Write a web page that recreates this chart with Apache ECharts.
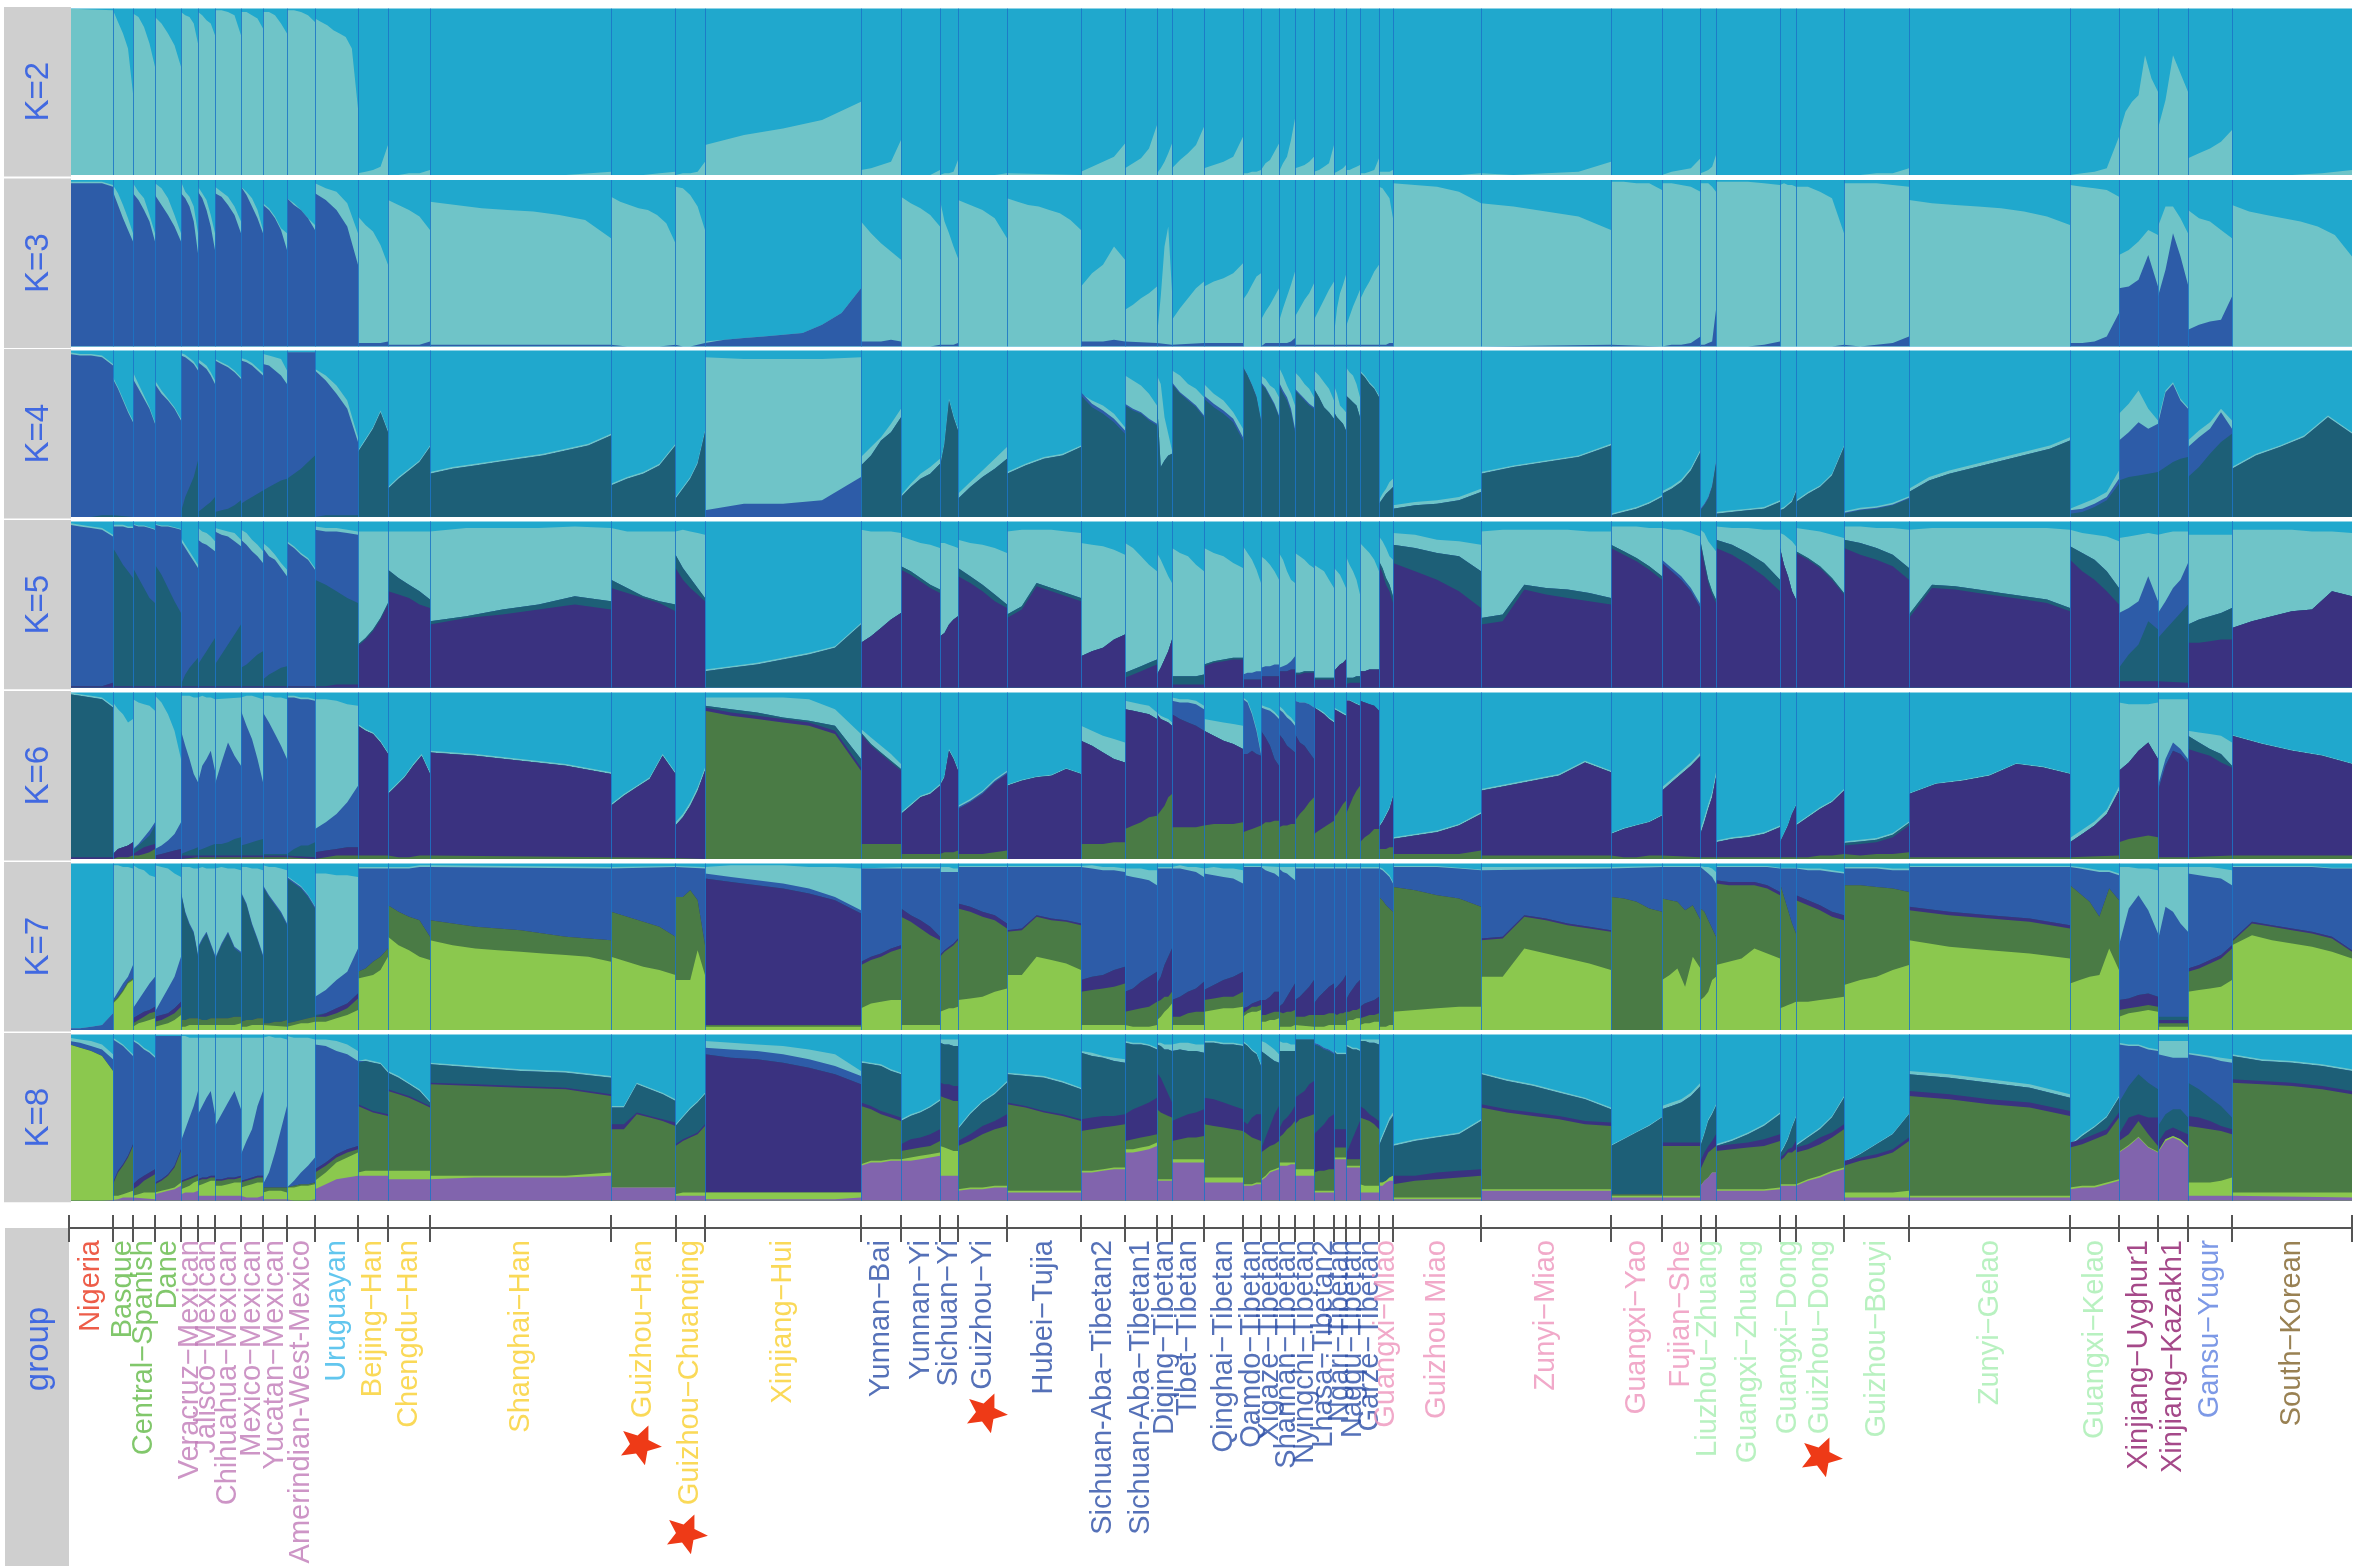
<!DOCTYPE html>
<html><head><meta charset="utf-8">
<style>html,body{margin:0;padding:0;background:#fff}#c{width:2358px;height:1568px}</style>
<script src="https://cdn.jsdelivr.net/npm/echarts@6/dist/echarts.min.js"></script>
</head><body><div id="c"></div>
<script>
const popNames=['Nigeria','Basque','Central−Spanish','Dane','Veracruz−Mexican','Jalisco−Mexican','Chihuahua−Mexican','Mexico−Mexican','Yucatan−Mexican','Amerindian-West-Mexico','Uruguayan','Beijing−Han','Chengdu−Han','Shanghai−Han','Guizhou−Han','Guizhou−Chuanqing','Xinjiang−Hui','Yunnan−Bai','Yunnan−Yi','Sichuan−Yi','Guizhou−Yi','Hubei−Tujia','Sichuan-Aba−Tibetan2','Sichuan-Aba−Tibetan1','Diqing−Tibetan','Tibet−Tibetan','Qinghai−Tibetan','Qamdo−Tibetan','Xigaze−Tibetan','Shannan−Tibetan','Nyingchi−Tibetan','Lhasa−Tibetan2','Ngari−Tibetan','Nagqu−Tibetan','Garze−Tibetan','Guangxi−Miao','Guizhou Miao','Zunyi−Miao','Guangxi−Yao','Fujian−She','Liuzhou−Zhuang','Guangxi−Zhuang','Guangxi−Dong','Guizhou−Dong','Guizhou−Bouyi','Zunyi−Gelao','Guangxi−Kelao','Xinjiang−Uyghur1','Xinjiang−Kazakh1','Gansu−Yugur','South−Korean'];
const popEdges=[69,113,133,155,181,198,215,241,263,287,315,358,388,430,611,675.5,705,861,901,940,958,1007,1081,1125,1157,1172,1204,1243,1261,1279,1295,1314,1334,1346,1360,1379,1393,1481,1611,1662,1700.5,1716,1780,1796,1844,1909,2070,2119,2158,2188,2232,2352];
const C={cyan:'#20A8CD',teal:'#6FC4C8',blue:'#2D5CA8',dteal:'#1D5F77',navy:'#3A3280',dgreen:'#4A7B45',lgreen:'#8BC84E',purple:'#8164AD'};
const labelGroups=[['#E8341C',1],['#62B946',3],['#C07AB8',6],['#3BB8EA',1],['#F9CF2E',6],['#2B4DA6',18],['#EE93BB',5],['#A6EEB0',7],['#8E1B6C',2],['#5C7FE0',1],['#7F6228',1]];
const labelTop=12;
const starPops=[['Guizhou−Han',642,217],['Guizhou−Chuanqing',688,306],['Guizhou−Yi',988,185],['Guizhou−Dong',1823,229]];

/* Each panel: one row per population. Entries go bottom to top.
   An array is a boundary level (% of the panel) at evenly spaced places across the population;
   a number is a thickness above the boundary beneath it. */
const k2=[[[100,99]],[[99,92,85,76,49]],[[97,95,89,79,65]],[[95,91,85,78,65]],[[98,96,95,91,79]],[[98,96,93,91,84]],[[99,99,98,96,84]],[[98,98,96,94,88]],[[98,98,96,91,85]],[[99,99,98,96,92]],[[94,92,90,87,85,83,76,40]],[[1,2,3,5,18]],[[0,0,1,1,3]],[[0,0,0,0,2]],[[0,0,0,1,2]],[[0,1,1,2,8]],[[18,24,28,33,44]],[[3,4,6,8,21]],[[0,0,0,0,3]],[[0,1,1,2,9]],[[0,0,0,0,1]],[[0,0]],[[2,5,8,11,19]],[[4,7,10,16,30]],[[1,4,8,13,19]],[[4,9,13,18,29]],[[4,6,8,11,23]],[[1,1,2,2,3]],[[2,7,9,14,19]],[[2,7,11,21,34]],[[4,5,6,8,11]],[[2,3,5,7,18]],[[1,2,3,4,6]],[[3,3,4,5,6]],[[1,1,2,3,10]],[[2,2,2,2,3]],[[0,0,0,0,1]],[[0,0,1,2,8]],[[0,0]],[[1,2,3,4,10]],[[1,2,3,5,12]],[[0,0]],[[0,0]],[[0,0]],[[0,0,1,1,4]],[[0,0]],[[0,1,2,4,23]],[[25,38,44,48,72,58,50]],[[28,45,72,61,50]],[[10,13,16,20,27]],[[0,0,0,1,3]]];

const k3=[[[98,98,98,98,96],1],[[93,85,77,70,63],[98,92,85,77,68]],[[92,88,82,75,63],[98,93,89,79,68]],[[91,85,79,72,63],[98,95,89,79,68]],[[92,89,84,75,56],[99,93,90,84,68]],[[93,89,82,72,58],[96,92,88,79,68]],[[92,90,85,79,68],[96,93,90,84,75]],[[96,91,84,77,68],[96,93,89,82,70]],[[85,82,77,70,58],[86,83,78,71,68]],[[89,85,82,77,70],[89,86,82,77,73]],[[92,88,82,72,49],[98,95,93,86,68]],[[2,2,2,2,3],[78,73,69,61,49]],[[1,1,1,1,3],[88,85,82,78,70]],[[1,1],[87,85,83,82,81,79,76,65]],[[0,0,0,0,1],[90,87,85,83,82,79,74,62]],[[0,0,0,1,2],[96,95,91,84,70]],[[3,4,5,6,7,8,13,20,35],0],[[3,3,3,4,3],[75,68,62,57,52]],[[0,0,0,0,1],[90,86,83,79,72]],[[0,1,1,1,2],[88,75,68,60,53]],[[0,0],[88,85,82,77,65]],[[0,0],[89,87,85,84,82,80,76,70]],[[3,3,3,4,3],[36,44,49,60,52]],[[2,2],[22,25,29,32,36]],[[1,1],[6,30,60,72,33]],[[2,2],[16,23,29,35,39]],[[2,2],[36,39,41,44,50]],[[0,0],[28,32,37,42,44]],[[1,2,2,2,2],[16,21,25,30,35]],[[2,2,2,3,5],[15,23,30,37,45]],[[1,1],[18,23,28,32,38]],[[1,1],[16,22,28,34,39]],[[1,1],[7,23,32,37,43]],[[1,1],[12,18,24,29,34]],[[1,1],[28,34,39,45,49]],[[1,1,1,2,2],[96,95,92,89,77]],[[0,0],[98,97,96,93,86]],[[1,1],[86,84,81,78,70]],[[0,0],[99,99,98,98,94]],[[0,1,1,2,6],[98,98,97,96,93]],[[1,1,2,3,22],[98,98,98,96,93]],[[0,0,0,1,3],[99,99,99,98,97]],[[0,0],[98,98,97,97,96]],[[0,0,0,0,1],[97,96,93,89,68]],[[0,0,1,2,6],[98,98,98,97,96]],[[0,0],[88,86,85,84,83,81,78,73]],[[2,2,3,6,20],[97,96,95,94,90]],[[35,36,40,55,36],[55,58,63,70,67]],[[30,46,68,54,37],[72,84,84,77,68]],[[10,13,15,16,30],[82,77,75,70,65]],[[0,0],[85,81,79,77,75,72,67,54]]];

const k4=[[[0,0,0,1,1],[98,97,97,96,91],1],[[0,0],[83,77,70,63,57],1],[[0,0],[83,77,71,65,56],[87,80,73,66,57]],[[0,0],[80,74,70,65,58],[82,76,71,66,59]],[[3,12,18,24,34],[97,96,94,92,88],1.5],[[3,5,7,9,12],[93,91,89,85,80],2],[[3,4,5,7,10],[94,92,90,87,83],1],[[8,10,12,14,16],[94,93,91,88,85],1.5],[[16,18,20,22,23],[92,91,88,85,80],[98,97,96,95,88]],[[23,26,29,33,37],[99,99],0],[[0,1,1,1,1],[88,82,74,65,45],[89,85,79,70,48]],[[39,46,53,63,51],0,1],[[17,23,28,33,42],0,1],[[26,29,31,33,35,37,40,43,49],0,1],[[19,23,26,31,43],0,1],[[11,17,23,32,51],0,1],[[0,0],[4,8,8,10,24],[96,95,95,95,96]],[[31,37,46,51,60],0,[36,42,48,56,65]],[[12,18,23,26,32],0,[13,20,26,30,35]],[[30,44,70,60,52],0,1],[[11,18,24,29,35],0,[14,21,28,35,42]],[[26,31,35,37,42],0,1],[[73,66,62,57,50],2,[74,70,67,62,54]],[[67,64,62,58,55],1,[85,82,79,74,67]],[[70,30,34,37,38],0,[85,80,60,50,40]],[[80,74,70,66,60],1,[88,85,80,77,72]],[[71,66,62,57,46],2,[80,74,70,63,53]],[[90,85,79,72,58],0.5,0],[[80,77,72,67,60],1,[85,83,79,77,72]],[[79,74,70,63,51],2,[90,85,79,74,67]],[[76,73,70,67,65],1,[87,84,80,77,72]],[[77,72,66,63,59],0,[88,85,81,77,70]],[[63,60,58,56,52],0,[79,74,67,65,63]],[[73,71,69,67,60],0,[90,87,85,80,72]],[[87,84,80,77,72],0,1],[[8,11,14,16,18],0,[10,14,17,21,23]],[[5,7,8,10,15],0,2],[[26,30,33,36,43],0,1],[[1,3,5,8,12],0,1],[[14,17,21,28,39],0,1.5],[[4,7,11,18,32],1,0],[[2,3,4,5,9],0,1],[[4,5,7,9,15],0,1],[[9,14,18,25,42],0,1],[[2,4,5,7,11],0.5,1],[[15,22,26,29,32,35,38,41,46],0,2],[[2,3,6,10,20],[4,5,8,12,23],[5,8,11,15,28]],[[22,24,25,26,27],[46,51,57,53,56],[62,68,76,65,58]],[[27,30,33,35,36],[56,75,80,70,65],1],[[24,30,38,45,50],[42,48,53,63,53],[46,52,57,65,58]],[[29,37,42,48,60,50],0,1]];

const k5=[[[1,1,1,1,3],0,[98,97,96,95,91],1],[[1,1],[84,79,74,70,66],[97,97,97,96,96],1],[[1,1],[72,66,60,54,51],[98,97,97,96,95],0.5],[[1,1],[74,68,60,52,45],[98,97,97,96,95],0.5],[[1,1],[2,8,12,15,18],[88,84,80,76,72],2],[[1,1],[14,18,22,26,30],[89,87,86,84,82],[96,94,93,91,88]],[[1,1],[14,20,26,32,38],[94,92,91,88,85],[96,95,94,93,89]],[[1,1],[12,14,17,20,22],[89,86,82,79,75],[95,93,89,86,82]],[[1,1],[5,8,10,12,13],[84,79,77,72,67],[87,84,80,75,71]],[[1,1],0,[87,84,80,77,71],1],[[1,1,2,2,2],[65,62,58,54,51],[95,94,94,93,92],2],[[25,29,34,41,50],1,0,[94,94]],[[58,56,54,50,48],[71,66,62,58,53],0,[94,94]],[[38,42,44,47,50,47],[40,43,47,50,55,52],0,[95,96,96,96,97,96]],[[60,57,54,51,46],[65,60,55,52,50],0,[95,94,94,94,94]],[[72,65,60,56,52],[80,72,66,60,54],0,[95,95,94,93,92]],[[0,0],[10,12,14,17,20,24,38],0,1],[[27,31,36,41,45],0,0,[95,94,94,94,93]],[[71,68,64,60,57],2,0,[91,89,87,86,84]],[[31,33,38,41,43],0,0,[87,87,86,85,84]],[[67,63,58,52,48],[72,67,62,56,50],0,[89,87,86,84,81]],[[42,47,61,58,55,52],2,0,[94,95,95,95,94,93]],[[19,22,24,29,32],0,0,[87,86,85,83,80]],[[6,8,10,12,14],3,0,[87,84,79,74,70]],[[8,12,17,22,29],0,0,[81,77,72,67,63]],[[2,2],[7,7,7,7,8],0,[84,81,79,74,70]],[[13,15,16,17,17],1,0,[84,81,79,75,72]],[[5,5],0,[8,9,9,10,10],[85,81,77,71,63]],[[7,7],0,[12,13,13,14,14],[79,77,74,70,65]],[[10,10,10,11,11],0,[12,13,14,16,19],[81,77,70,65,63]],[[8,8,9,9,9],1,0,[81,79,77,74,72]],[[5,5],1,0,[74,72,70,65,60]],[[10,12,14,15,17],0,0,[72,70,68,64,60]],[[2,3,3,3,3],[6,6,6,7,7],0,[79,74,70,65,56]],[[10,10,11,11,11],0,0,[87,84,81,77,70]],[[74,69,62,58,51],[76,72,66,62,55],0,[91,88,84,79,77]],[[75,70,65,58,48],[86,84,81,79,70],0,[93,92,89,88,86]],[[38,40,59,56,54,52,50],[42,44,62,60,59,57,54],0,[94,95,95,95,95,94,94]],[[84,80,76,71,65],2,0,[97,97,97,96,96]],[[75,70,65,58,48],0,2,[97,95,95,93,91]],[[86,74,63,56,51],2,0,[95,93,88,85,82]],[[84,80,74,67,58],[89,86,81,75,65],0,[97,96,96,95,95]],[[84,74,67,58,53],0,0,[93,92,90,88,85]],[[81,77,72,65,56],1,0,[96,95,94,92,90]],[[84,80,77,73,65],[89,87,84,80,72],0,[97,97,96,96,95]],[[42,60,59,57,55,53,51,46],2,0,[95,96,96,96,96,96,96,95]],[[77,70,65,58,50],[85,81,77,70,60],0,[94,93,92,91,88]],[[4,4],[12,20,26,40,35],[45,48,52,67,52],[90,91,92,93,92]],[[3,3],[30,35,40,45,50],[45,52,60,65,75],[93,93,94,94,94]],[[27,27,28,29,29],[38,41,43,45,48],0,[92,92]],[[36,40,43,46,47,58,55],0,0,[95,95,95,95,94,94,93]]];

const k6=[[[0,0],[1,1],[99,98,97,96,91],0,1],[[1,1,1,1,2],[3,6,7,8,10],0,0,[94,90,87,82,84]],[[1,2,3,4,6],[3,5,7,8,9],[5,8,11,14,20],[6,9,13,17,22],[96,94,93,92,89]],[[0,0],[2,3,4,5,6],0,[6,8,11,15,22],[98,94,87,77,60]],[[1,1],[2,2],[3,4,5,6,7],[77,68,60,51,46],[98,98,98,97,97]],[[1,1],[2,2],[5,6,7,8,9],[46,56,60,65,53],[98,98,97,97,96]],[[1,1],[2,2],[8,9,10,12,13],[45,58,70,62,56],[97,97]],[[1,1],[2,2],[8,9,10,11,12],[89,80,72,60,46],[98,98,98,97,96]],[[1,1],[2,2],[3,3],[88,82,75,68,60],[98,98,97,97,96]],[[0,0],[1,1],[3,6,8,8,10],[97,97,96,96,95],1],[[1,1,2,2,2],[4,5,6,7,7],0,[18,22,27,34,44],[97,96,95,93,92]],[[2,2],[80,77,75,70,63],0,0,1],[[1,1,1,2,2],[39,44,49,56,62,51],0,0,1],[[1,1],[64,62,59,56,51],0,0,1],[[0.5,0.5],[32,38,43,48,62,51],0,0,1],[[0,0],[20,25,32,41,53],0,0,2],[[89,86,84,82,80,75,53],2,[92,90,88,85,83,80,60],0,[97,97,97,97,96,90,75]],[[9,9],[75,68,63,58,53],1,0,[78,73,68,63,57]],[[3,3],[27,32,37,39,44],0,0,1],[[4,4,4,4,5],[44,49,65,60,53],0,0,1],[[3,3,3,4,5],[30,34,39,46,51],0,1,1],[[0,0],[44,47,49,50,54,51],0,0,0.5],[[9,9,9,10,10],[71,68,64,60,58],0,0,[80,77,74,72,70]],[[18,20,22,25,26],[90,89,88,87,84],0,0,[95,94,93,92,88]],[[27,29,32,37,39],[87,84,83,82,80],0,0,2],[[19,19,19,19,20],[87,84,82,80,77],0,[95,94,94,93,90],2],[[21,21,21,21,22],[77,74,71,69,66],0,0,[84,83,82,81,80]],[[16,17,18,19,20],[63,63,65,63,62],0,[96,94,87,77,63],1],[[21,22,22,23,23],[77,73,68,60,56],0,[91,90,89,87,84],1.5],[[19,20,20,21,21],[75,72,68,66,64],0,[90,88,85,83,80],2],[[23,27,30,34,37],[75,70,68,64,60],0,[95,94,94,93,91],0],[[15,17,19,21,23],[91,89,87,84,82],0,0,1],[[25,27,30,33,35],[90,89,88,87,86],0,0,1],[[27,32,37,41,44],[95,95,94,93,92],0,0,0.5],[[10,13,15,18,18],[95,94,93,92,89],0,0,0],[[6,6,6,7,7],[19,22,26,30,37],0,0,1],[[3,3,3,3,5],[12,14,16,20,27],0,0,1],[[2,2],[41,44,47,50,58,52],0,0,1],[[1,1,1,2,2],[15,18,20,22,26],0,0,0.5],[[1,1],[41,46,51,56,62],0,0,2],[[1,1],[15,22,30,37,49],0,0,3],[[1,1],[10,12,13,15,19],0,0,1],[[1,1],[10,15,20,27,32],0,0,0.5],[[1,1,2,2,3],[20,25,30,34,41],0,0,1],[[2,2,3,3,4],[8,9,10,13,20],1.5,0,1],[[1,1],[39,45,47,50,57,55,51],0,0,0.5],[[2,2],[10,15,20,27,41],0,0,2.5],[[10,12,13,14,13],[53,58,65,70,60],0,0,[94,93,93,93,94]],[[1,1],[41,56,65,63,58],0,[44,60,70,66,60],[96,96]],[[2,2],[66,64,62,58,55],[74,70,66,63,56],0,[77,76,75,74,70]],[[2,2],[74,69,65,62,57],0,0,0.5]];

const k7=[[[0,0],0,0,0,[1,1,2,3,10],0],[[16,19,23,28,30],1,0,0,[18,23,28,32,39],[99,99,98,98,97]],[[2,4,5,6,7],[4,6,8,10,11],[7,9,11,12,14],0,[13,18,23,28,32],[99,97,96,93,92]],[[2,3,4,6,9],[5,6,8,10,14],[8,9,10,13,17],0,[11,18,25,32,44],[99,98,97,94,92]],[[2,2,3,3,3],[6,6,7,7,7],0,[82,70,63,58,44],1,[98,98,98,97,97]],[[3,3],[6,6,6,7,7],0,[49,54,58,51,44],1,[98,98,97,97,97]],[[3,3,3,3,4],[6,7,7,8,8],0,[42,51,58,49,46],1,[98,98,97,97,96]],[[2,2,3,3,3],[5,6,6,7,7],0,[82,75,63,54,44],1,[98,98,97,97,96]],[[2,2],[4,4,5,5,6],0,[86,80,75,70,63],1,[99,98,98,97,96]],[[2,3,4,4,5],[4,5,6,7,8],0,[91,88,85,80,73],1,0.5],[[4,5,7,9,12],[7,8,10,13,19],[9,10,13,16,22],0,[20,24,30,35,49],[94,94,93,93,92]],[[31,32,33,36,44],[35,37,41,44,49],0,0,[97,97],1],[[56,51,48,44,42],[75,71,68,66,56],0,0,[97,97,97,98,98],1],[[54,51,49,48,47,46,45,44,41],[66,62,60,56,54],0,0,[97,97],1],[[44,41,38,36,33],[71,68,65,62,56],0,0,[98,98],0.5],[[30,30,30,48,33],[80,80,84,78,51],0,0,[97,97],1],[[2,2],[3,3],[91,89,87,85,82,78,70],0,[94,92,90,88,85,80,72],[99,99,99,99,98,98,97]],[[13,16,17,18,18],[39,42,44,47,49],2,0,[97,97],1],[[3,3],[68,65,61,57,54],[73,69,66,62,56],0,[97,97],1],[[11,12,13,13,14],[44,47,49,51,54],1,0,[95,95],[98,98,98,97,97]],[[18,19,20,23,25],[73,71,68,66,61],3,0,[98,98],0.5],[[33,33,44,42,40,36],[59,60,68,66,65,63],1,0,[98,98],0.5],[[3,3],[23,24,25,26,28],[30,32,33,36,38],0,[97,97,96,96,95],[99,99,98,98,97]],[[2,2,2,2,3],[11,12,13,14,17],[23,25,29,32,35],0,[93,92,91,90,87],[98,97,97,96,96]],[[6,8,11,13,16],[16,18,20,20,23],[28,32,39,44,49],0,[97,97],1],[[3,3],[8,8,10,11,11],[18,20,23,25,29],0,[97,97,96,95,92],[99,99,98,98,97]],[[11,12,13,13,14],[18,19,20,20,23],[24,27,30,32,35],0,[94,93,92,91,88],[98,98,97,97,96]],[[8,10,11,11,12],[10,12,14,14,15],[13,14,16,17,18],0,[98,98],0.5],[[5,5,6,6,7],[9,9,10,11,11],[17,18,20,23,23],0,[97,96,95,94,92],[98,98]],[[2,2,2,2,3],[10,10,11,11,12],[14,16,20,24,28],0,[97,95,94,92,90],[98,98]],[[2,2],[8,8,8,9,9],[18,20,23,26,30],0,[97,97],1],[[2,2,2,3,3],[9,9,9,10,10],[16,20,23,26,28],0,[97,97],1],[[2,3,3,3,3],[9,9,10,10,11],[24,26,28,30,33],0,[97,97],1],[[5,6,6,7,7],[10,11,12,12,13],[18,22,25,28,30],0,[97,97],1],[[3,4,4,5,5],[7,8,9,9,10],[14,16,17,18,20],0,[97,97],1],[[2,2,2,3,3],[80,78,75,73,71],0,0,[97,96,94,92,88],1],[[11,12,13,14,14],[86,84,81,79,74],0,0,[98,98,98,97,96],0.5],[[32,32,49,46,43,40,36],[54,55,68,66,63,61,59],1,0,[97,97],1],[[0,0],[80,79,77,73,71],0,0,[98,98],0.5],[[30,33,37,26,44,37],[79,78,77,72,75,66],0,0,[98,98],0.5],[[18,20,23,30,32],[73,71,66,61,56],0,0,[97,96,94,92,88],[98,98,98,97,95]],[[39,41,43,49,46,43],[88,87,87,87,85,81],2,0,[98,98,98,98,98,97],0.5],[[13,14,15,16,17],[88,80,72,64,58],0,0,[97,97],0.5],[[16,17,18,19,20],[78,75,72,68,66],3,0,[97,96,96,95,94],1],[[27,30,32,36,39],[87,87,86,85,83],0,0,[97,97,97,96,96],1],[[54,50,48,46,43],[72,69,67,65,61],2,0,[98,98],0.5],[[28,30,32,33,49,36],[87,82,77,68,85,78],0,0,[98,97,96,95,95,93],1],[[8,10,11,12,11],[12,13,14,15,14],[18,19,21,22,20],0,[51,73,81,72,58],[98,98,97,97,96]],[[2,2],[4,4],[6,6],[8,8],[54,74,71,64,59],[98,98]],[[23,24,25,26,30],[35,37,40,43,49],2,0,[94,93,92,91,87],[98,98,98,97,96]],[[51,57,54,52,50,47,43],[53,64,62,60,58,55,47],1,0,[98,98,98,98,98,97,97],0.5]];

const k8=[[[0,0,0,0,0.5],[94,92,90,87,78],0,0,0,[96,95,93,91,85],[98,97,96,94,88]],[[1,1,2,2,2],[3,3,4,5,6],[10,17,21,26,33],1,0,[97,95,93,90,87],1],[[1,1],[3,4,5,5,5],[7,9,12,14,16],[10,13,15,17,19],0,[96,94,91,89,86],1],[[4,5,6,7,9],[5,6,7,8,11],[10,12,15,20,30],1,0,[99,99],0],[[4,5,5,5,6],[7,8,9,11,12],[11,12,13,14,15],1,0,[36,43,50,57,66],[99,99,98,98,98]],[[3,3],[9,10,11,12,12],[12,13,13,14,14],1,0,[52,57,62,66,52],[98,98]],[[3,3],[9,9,10,11,11],[12,12,13,13,14],1,0,[45,52,59,66,55],[98,98]],[[2,2,2,2,3],[8,9,10,11,11],[11,12,13,14,14],1,0,[28,36,43,57,66],[98,98]],[[1,1],[5,6,6,6,5],[8,8],0,0,[10,17,29,43,57],[99,99,98,98,97]],[[0,0,0,0,1],[8,8,9,9,10],1,0,0,[8,12,17,21,26],[99,98,98,98,97]],[[7,10,13,14,15],[12,17,23,26,29],[17,21,26,29,31],2,0,[94,93,90,88,84],[98,97,96,94,90]],[[15,15],[17,18,18,18,18],[57,55,53,52,51],1,[83,84,83,82,77],0,1],[[13,13],[18,18],[66,64,62,59,56],1,[76,74,70,66,59],0,1],[[14,14,14,14,15],[15,15,15,15,17],[70,69,68,67,63],1,[82,80,78,77,74],0,1],[[8,8],0,[43,43,52,50,48,45],[46,46,53,51,49,47],[56,56,70,67,64,60],0,1],[[3,3],[4,5,5,5,5],[33,36,38,40,45],1,[45,50,55,59,64],0,1],[[1,1,1,1,1,1,2],[5,5],0,[88,86,85,83,80,76,70],0,[92,91,90,88,85,81,75],[96,95,94,93,91,88,78]],[[21,23,23,24,24],1,[57,55,52,50,48],2,[83,82,81,78,76],0,1],[[23,24,25,26,27],2,[30,31,32,33,36],[34,37,38,40,43],[48,51,53,56,60],0,1],[[15,15],[33,32,31,30,30],[63,62,61,60,60],[71,70,70,69,69],[95,94,94,93,93],0,[97,97]],[[6,7,7,8,8],1,[33,36,40,43,45],[36,40,45,48,52],[43,52,59,64,71],0,1],[[5,5],[6,6],[58,56,53,51,48],1,[76,75,74,71,67],0,1],[[17,17,18,19,19],1,[42,43,44,45,46],[50,50,51,51,52],[89,87,86,84,83],0,[90,89,87,86,85]],[[29,29,30,31,33],2,[36,37,38,39,40],[52,55,57,59,62],[95,94,94,93,91],0,1],[[12,12],[13,13],[55,53,52,51,50],[77,74,69,64,59],[94,93,91,91,90],0,[95,95,94,94,94]],[[23,23],[25,25],[36,37,38,38,39],[48,50,52,53,55],[91,91,90,90,89],0,[95,95,95,94,94]],[[11,11],[14,14],[46,45,44,43,42],[62,61,59,57,55],[95,95,94,94,93],0,1],[[9,9,9,10,10],1,[43,40,38,37,36],[48,46,50,52,52],[95,93,90,88,81],0,1],[[12,14,17,18,19],1,[29,31,33,34,36],[31,38,45,52,57],[90,88,86,84,83],0,[96,95,93,91,88]],[[21,21,21,22,22],[23,23],[38,40,43,45,48],[43,48,50,53,57],[90,90],0,[96,95,95,94,94]],[[15,15],[19,19],[46,49,50,51,52],[62,64,66,70,72],[97,97],0,0],[[5,5],[6,6],[17,18,18,19,19],[40,43,46,50,52],[94,93,91,90,88],1,0],[[25,25],[26,26],[32,32],[43,43],[90,88,88,88,88],0,1],[[20,20],[21,21],[25,25],[28,33,38,43,48],[93,92,91,91,90],0,1],[[5,5],[10,9,9,9,9],[50,49,48,46,43],[57,55,52,50,48],[96,96,95,95,94],0,[97,97]],[[9,9,11,12,12],[11,11,12,14,15],0,0,[33,38,43,48,51],0,2],[[1,1],[2,2],[10,12,13,14,15],[14,15,17,18,19],[33,36,38,40,48],0,1],[[6,6],[7,7],[56,53,51,49,46,45],2,[76,72,69,65,61,55],0,1],[[2,2],[3,3],[4,4],0,[33,37,41,45,50],0,0.5],[[2,2],[3,3],[33,33],[35,35],[55,57,59,63,69],0,2],[[9,12,14,17,17],0,[19,24,29,31,33],[24,29,33,36,40],[33,40,48,52,57],0,1],[[6,6,6,6,7],1,[30,31,32,33,36],[33,34,35,37,40],[33,36,40,45,52],0,1],[[9,9],[10,10],[24,26,29,29,31],[26,28,31,32,36],[28,32,37,44,50],0,1],[[9,12,14,17,19],1,[29,31,34,38,43],[32,34,38,41,46],[33,38,43,50,62],0,1],[[2,2],[5,5,5,5,6],[21,24,26,29,36],[24,26,28,31,38],[23,28,34,40,52],0,0.5],[[2,2],[3,3],[63,61,58,56,51],3,[76,74,71,68,62],0,2],[[7,8,8,10,12],1,[32,34,37,40,50],3,[33,39,44,50,62],0,1],[[29,33,38,32,29],0.5,[36,40,48,40,33],[40,50,52,50,50],[59,69,76,71,67],[94,93,93,91,90],1],[[29,36,38,36,32],1,0,[35,42,44,42,40],[45,52,55,55,50],[88,87,86,86,86],[96,96]],[[3,3],[11,11,11,12,14],[45,44,43,42,40],[51,50,48,45,43],[71,67,62,57,50],[88,87,86,84,83],[89,88,87,86,85]],[[2,2],[5,5],[71,70,69,67,64],2,[87,84,83,81,78],0,1]];

const panels=[
 {label:'K=2',rows:k2,colors:[C.teal],top:8.6},
 {label:'K=3',rows:k3,colors:[C.blue,C.teal],top:180},
 {label:'K=4',rows:k4,colors:[C.dteal,C.blue,C.teal],top:350.6},
 {label:'K=5',rows:k5,colors:[C.navy,C.dteal,C.blue,C.teal],top:521.4},
 {label:'K=6',rows:k6,colors:[C.dgreen,C.navy,C.dteal,C.blue,C.teal],top:692.5},
 {label:'K=7',rows:k7,colors:[C.lgreen,C.dgreen,C.navy,C.dteal,C.blue,C.teal],top:863.6},
 {label:'K=8',rows:k8,colors:[C.purple,C.lgreen,C.dgreen,C.navy,C.dteal,C.blue,C.teal],top:1034.4}
];
const panelH=166.4, gray='#CFCFCF', tickInk='#555555', fontName='"Liberation Sans",Arial,sans-serif';
const popCenters=popNames.map((_,i)=>(popEdges[i]+popEdges[i+1])/2);
const labelColors=[];labelGroups.forEach(([c,n])=>{for(let i=0;i<n;i++)labelColors.push(c)});

/* Resolve one boundary of a panel into its points across all populations. */
function boundaryLines(rows,nb){
  const out=[];
  rows.forEach((row,p)=>{
    const w=popEdges[p+1]-popEdges[p];
    let prev=[0,0];
    for(let b=0;b<nb;b++){
      let e=row[b];
      let vals=Array.isArray(e)?e:prev.map(v=>v+(e||0));
      (out[b]=out[b]||[]);
      vals.forEach((v,j)=>out[b].push([popEdges[p]+w*j/(vals.length-1),v]));
      prev=vals;
    }
  });
  return out;
}
const hiddenAxis={axisLine:{show:false},axisTick:{show:false},axisLabel:{show:false},splitLine:{show:false}};
const grids=[],xAxes=[],yAxes=[],series=[],graphics=[];
panels.forEach((pn,i)=>{
  grids.push({left:71,right:6,top:pn.top,height:panelH,show:true,backgroundColor:C.cyan,borderWidth:0});
  xAxes.push({type:'value',gridIndex:i,min:71,max:2352,show:false});
  yAxes.push({type:'value',gridIndex:i,min:0,max:100,z:20,...hiddenAxis,
    name:pn.label,nameLocation:'middle',nameRotate:90,nameGap:16,nameTextStyle:{color:'#4169E1',fontSize:33,fontFamily:fontName}});
  graphics.push({type:'rect',z:-5,shape:{x:4,y:pn.top-1.5,width:67,height:panelH+3},style:{fill:gray}});
  const lines=boundaryLines(pn.rows,pn.colors.length);
  for(let b=pn.colors.length-1;b>=0;b--){
    series.push({type:'line',name:pn.label+' '+b,xAxisIndex:i,yAxisIndex:i,data:lines[b],showSymbol:false,symbol:'none',silent:true,animation:false,
      lineStyle:{width:0},areaStyle:{color:pn.colors[b],opacity:1},itemStyle:{color:pn.colors[b]},z:2+(pn.colors.length-b)*0.01});
  }
  series.push({type:'line',xAxisIndex:i,yAxisIndex:i,data:[],silent:true,animation:false,z:5,
    markLine:{silent:true,animation:false,symbol:'none',label:{show:false},lineStyle:{color:'#1C74C6',width:1,type:'solid',opacity:.85},data:popEdges.slice(1,-1).map(x=>({xAxis:x}))}});
});
/* group row: g holds the axis line, names and stars; g+1 the ticks; g+2 the "group" title */
const g=panels.length;
grids.push({left:69,right:6,top:1228,height:338,show:false});
xAxes.push({type:'value',gridIndex:g,position:'top',min:69,max:2352,
  axisLine:{show:true,lineStyle:{color:tickInk,width:2}},splitLine:{show:false},axisTick:{show:false},axisLabel:{show:false}});
yAxes.push({type:'value',gridIndex:g,min:0,max:338,inverse:true,...hiddenAxis});
grids.push({left:69,right:6,top:1215,height:27,show:false});
xAxes.push({type:'value',gridIndex:g+1,position:'bottom',min:69,max:2352,
  axisLine:{show:false},splitLine:{show:false},axisLabel:{show:false},
  axisTick:{show:true,inside:true,length:27,lineStyle:{color:tickInk,width:2},customValues:popEdges}});
yAxes.push({type:'value',gridIndex:g+1,min:0,max:1,...hiddenAxis});
grids.push({left:69,right:6,top:1228,height:242,show:false});
xAxes.push({type:'value',gridIndex:g+2,min:69,max:2352,show:false});
yAxes.push({type:'value',gridIndex:g+2,min:0,max:1,z:20,...hiddenAxis,
  name:'group',nameLocation:'middle',nameRotate:90,nameGap:14,nameTextStyle:{color:'#4169E1',fontSize:33,fontFamily:fontName}});
graphics.push({type:'rect',z:-5,shape:{x:5,y:1228,width:64,height:338},style:{fill:gray}});
series.push({type:'scatter',name:'population names',xAxisIndex:g,yAxisIndex:g,symbolSize:0,silent:true,animation:false,z:6,clip:false,
  data:popNames.map((n,i)=>({name:n,value:[popCenters[i],labelTop],
    label:{show:true,position:'inside',formatter:n,rotate:90,align:'right',verticalAlign:'middle',color:labelColors[i],fontSize:29,fontFamily:fontName}}))});
const starPath='path://M50 2 L62.7 32.5 L95.6 35.2 L70.5 56.7 L78.2 88.8 L50 71.6 L21.8 88.8 L29.5 56.7 L4.4 35.2 L37.3 32.5 Z';
series.push({type:'scatter',name:'reference groups',xAxisIndex:g,yAxisIndex:g,symbol:starPath,symbolSize:40,symbolRotate:-95,itemStyle:{color:'#EE3A17',opacity:1},silent:true,animation:false,z:6,clip:false,
  data:starPops.map(s=>[s[1],s[2]])});

const chart=echarts.init(document.getElementById('c'),null,{renderer:'canvas'});
chart.setOption({animation:false,backgroundColor:'#fff',grid:grids,xAxis:xAxes,yAxis:yAxes,series:series,graphic:{elements:graphics}});
</script></body></html>
